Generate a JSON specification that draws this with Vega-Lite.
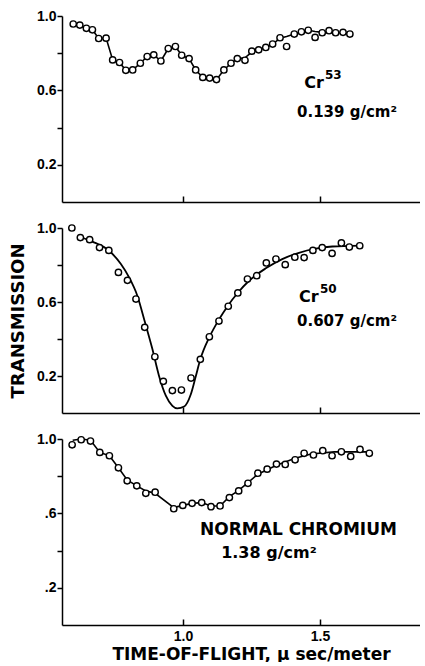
{
  "$schema": "https://vega.github.io/schema/vega-lite/v6.json",
  "background": "white",
  "padding": {"left": 9, "top": 9, "right": 0, "bottom": 0},
  "spacing": 26,
  "bounds": "flush",
  "config": {
    "view": {"stroke": null},
    "axis": {
      "grid": false,
      "domainColor": "black",
      "domainWidth": 1.5,
      "tickColor": "black",
      "tickWidth": 1.5,
      "labelColor": "black",
      "labelFont": "Liberation Sans",
      "labelFontWeight": "bold",
      "labelFontSize": 14,
      "titleColor": "black",
      "titleFont": "DejaVu Sans",
      "titleFontWeight": "bold",
      "titleFontSize": 16
    },
    "text": {"font": "DejaVu Sans", "fontWeight": "bold", "color": "black", "align": "left", "baseline": "alphabetic"}
  },
  "datasets": {
    "p1obs": [
      {"x": 0.599, "y": 0.957}, {"x": 0.623, "y": 0.951}, {"x": 0.647, "y": 0.934}, {"x": 0.669, "y": 0.926},
      {"x": 0.692, "y": 0.879}, {"x": 0.719, "y": 0.881}, {"x": 0.743, "y": 0.764}, {"x": 0.768, "y": 0.750},
      {"x": 0.791, "y": 0.708}, {"x": 0.816, "y": 0.710}, {"x": 0.844, "y": 0.746}, {"x": 0.869, "y": 0.782},
      {"x": 0.893, "y": 0.791}, {"x": 0.919, "y": 0.758}, {"x": 0.946, "y": 0.825}, {"x": 0.972, "y": 0.836},
      {"x": 0.995, "y": 0.789}, {"x": 1.022, "y": 0.771}, {"x": 1.046, "y": 0.710}, {"x": 1.072, "y": 0.670},
      {"x": 1.097, "y": 0.666}, {"x": 1.122, "y": 0.658}, {"x": 1.149, "y": 0.710}, {"x": 1.175, "y": 0.746},
      {"x": 1.198, "y": 0.771}, {"x": 1.226, "y": 0.762}, {"x": 1.251, "y": 0.811}, {"x": 1.276, "y": 0.818},
      {"x": 1.302, "y": 0.831}, {"x": 1.327, "y": 0.849}, {"x": 1.354, "y": 0.883}, {"x": 1.378, "y": 0.836},
      {"x": 1.406, "y": 0.903}, {"x": 1.432, "y": 0.915}, {"x": 1.457, "y": 0.923}, {"x": 1.482, "y": 0.885},
      {"x": 1.508, "y": 0.910}, {"x": 1.533, "y": 0.921}, {"x": 1.557, "y": 0.910}, {"x": 1.584, "y": 0.912},
      {"x": 1.609, "y": 0.903}
    ],
    "p1fit": [
      {"x": 0.599, "y": 0.957}, {"x": 0.623, "y": 0.951}, {"x": 0.647, "y": 0.934}, {"x": 0.669, "y": 0.926},
      {"x": 0.692, "y": 0.879}, {"x": 0.719, "y": 0.881}, {"x": 0.743, "y": 0.764}, {"x": 0.768, "y": 0.750},
      {"x": 0.791, "y": 0.708}, {"x": 0.816, "y": 0.710}, {"x": 0.844, "y": 0.746}, {"x": 0.869, "y": 0.782},
      {"x": 0.893, "y": 0.791}, {"x": 0.919, "y": 0.758}, {"x": 0.946, "y": 0.825}, {"x": 0.972, "y": 0.836},
      {"x": 0.995, "y": 0.789}, {"x": 1.022, "y": 0.771}, {"x": 1.046, "y": 0.710}, {"x": 1.072, "y": 0.670},
      {"x": 1.097, "y": 0.666}, {"x": 1.122, "y": 0.658}, {"x": 1.149, "y": 0.710}, {"x": 1.175, "y": 0.746},
      {"x": 1.198, "y": 0.771}, {"x": 1.226, "y": 0.775}, {"x": 1.251, "y": 0.806}, {"x": 1.276, "y": 0.818},
      {"x": 1.302, "y": 0.831}, {"x": 1.327, "y": 0.849}, {"x": 1.354, "y": 0.880}, {"x": 1.378, "y": 0.890},
      {"x": 1.406, "y": 0.903}, {"x": 1.432, "y": 0.915}, {"x": 1.457, "y": 0.923}, {"x": 1.482, "y": 0.917},
      {"x": 1.508, "y": 0.912}, {"x": 1.533, "y": 0.918}, {"x": 1.557, "y": 0.910}, {"x": 1.584, "y": 0.911},
      {"x": 1.609, "y": 0.903}
    ],
    "p2obs": [
      {"x": 0.594, "y": 1.0}, {"x": 0.625, "y": 0.948}, {"x": 0.659, "y": 0.937}, {"x": 0.695, "y": 0.894},
      {"x": 0.729, "y": 0.879}, {"x": 0.764, "y": 0.760}, {"x": 0.797, "y": 0.717}, {"x": 0.828, "y": 0.616},
      {"x": 0.860, "y": 0.463}, {"x": 0.897, "y": 0.304}, {"x": 0.928, "y": 0.171}, {"x": 0.961, "y": 0.121},
      {"x": 0.994, "y": 0.124}, {"x": 1.029, "y": 0.189}, {"x": 1.063, "y": 0.290}, {"x": 1.096, "y": 0.412},
      {"x": 1.131, "y": 0.497}, {"x": 1.165, "y": 0.577}, {"x": 1.200, "y": 0.649}, {"x": 1.235, "y": 0.724},
      {"x": 1.269, "y": 0.742}, {"x": 1.304, "y": 0.811}, {"x": 1.339, "y": 0.832}, {"x": 1.373, "y": 0.802},
      {"x": 1.408, "y": 0.842}, {"x": 1.442, "y": 0.840}, {"x": 1.474, "y": 0.879}, {"x": 1.508, "y": 0.894},
      {"x": 1.544, "y": 0.863}, {"x": 1.578, "y": 0.919}, {"x": 1.607, "y": 0.897}, {"x": 1.645, "y": 0.904}
    ],
    "p2fit": [
      {"x": 0.627, "y": 0.950}, {"x": 0.669, "y": 0.926}, {"x": 0.730, "y": 0.877}, {"x": 0.773, "y": 0.805},
      {"x": 0.803, "y": 0.733}, {"x": 0.833, "y": 0.634}, {"x": 0.861, "y": 0.490}, {"x": 0.888, "y": 0.346},
      {"x": 0.912, "y": 0.202}, {"x": 0.937, "y": 0.094}, {"x": 0.961, "y": 0.039}, {"x": 0.979, "y": 0.025},
      {"x": 1.004, "y": 0.035}, {"x": 1.028, "y": 0.100}, {"x": 1.045, "y": 0.190}, {"x": 1.063, "y": 0.290},
      {"x": 1.096, "y": 0.410}, {"x": 1.131, "y": 0.505}, {"x": 1.165, "y": 0.583}, {"x": 1.200, "y": 0.650},
      {"x": 1.241, "y": 0.715}, {"x": 1.302, "y": 0.782}, {"x": 1.362, "y": 0.832}, {"x": 1.423, "y": 0.866},
      {"x": 1.484, "y": 0.888}, {"x": 1.545, "y": 0.900}, {"x": 1.648, "y": 0.905}
    ],
    "p3obs": [
      {"x": 0.595, "y": 0.969}, {"x": 0.628, "y": 0.996}, {"x": 0.662, "y": 0.989}, {"x": 0.696, "y": 0.928},
      {"x": 0.731, "y": 0.910}, {"x": 0.764, "y": 0.845}, {"x": 0.796, "y": 0.775}, {"x": 0.831, "y": 0.748},
      {"x": 0.864, "y": 0.708}, {"x": 0.898, "y": 0.714}, {"x": 0.966, "y": 0.625}, {"x": 0.999, "y": 0.643},
      {"x": 1.033, "y": 0.654}, {"x": 1.068, "y": 0.658}, {"x": 1.102, "y": 0.636}, {"x": 1.135, "y": 0.640},
      {"x": 1.169, "y": 0.685}, {"x": 1.203, "y": 0.721}, {"x": 1.237, "y": 0.762}, {"x": 1.273, "y": 0.816},
      {"x": 1.307, "y": 0.838}, {"x": 1.341, "y": 0.865}, {"x": 1.373, "y": 0.863}, {"x": 1.409, "y": 0.888},
      {"x": 1.442, "y": 0.923}, {"x": 1.476, "y": 0.914}, {"x": 1.510, "y": 0.937}, {"x": 1.544, "y": 0.910},
      {"x": 1.578, "y": 0.931}, {"x": 1.612, "y": 0.906}, {"x": 1.646, "y": 0.944}, {"x": 1.680, "y": 0.923}
    ],
    "p3fit": [
      {"x": 0.597, "y": 0.993}, {"x": 0.628, "y": 1.0}, {"x": 0.662, "y": 0.993}, {"x": 0.696, "y": 0.928},
      {"x": 0.731, "y": 0.910}, {"x": 0.764, "y": 0.845}, {"x": 0.796, "y": 0.780}, {"x": 0.831, "y": 0.748},
      {"x": 0.864, "y": 0.721}, {"x": 0.898, "y": 0.708}, {"x": 0.966, "y": 0.631}, {"x": 0.999, "y": 0.643},
      {"x": 1.033, "y": 0.654}, {"x": 1.068, "y": 0.658}, {"x": 1.102, "y": 0.640}, {"x": 1.135, "y": 0.640},
      {"x": 1.169, "y": 0.690}, {"x": 1.203, "y": 0.724}, {"x": 1.237, "y": 0.766}, {"x": 1.273, "y": 0.811},
      {"x": 1.341, "y": 0.859}, {"x": 1.409, "y": 0.896}, {"x": 1.467, "y": 0.919}, {"x": 1.552, "y": 0.931},
      {"x": 1.680, "y": 0.931}
    ],
    "labels": [
      {"panel": 1, "role": "name", "label": "Cr", "x": 1.442, "y": 0.611},
      {"panel": 1, "role": "sup", "label": "53", "x": 1.518, "y": 0.659},
      {"panel": 1, "role": "mass", "label": "0.139 g/cm²", "x": 1.416, "y": 0.459},
      {"panel": 2, "role": "name", "label": "Cr", "x": 1.423, "y": 0.600},
      {"panel": 2, "role": "sup", "label": "50", "x": 1.500, "y": 0.649},
      {"panel": 2, "role": "mass", "label": "0.607 g/cm²", "x": 1.416, "y": 0.470},
      {"panel": 3, "role": "name", "label": "NORMAL CHROMIUM", "x": 1.062, "y": 0.486},
      {"panel": 3, "role": "mass", "label": "1.38 g/cm²", "x": 1.139, "y": 0.362}
    ]
  },
  "vconcat": [
    {
      "width": 358,
      "height": 186,
      "encoding": {
        "x": {"field": "x", "type": "quantitative", "scale": {"domain": [0.558, 1.865], "nice": false, "zero": false},
              "axis": {"values": [1.0, 1.5], "labels": false, "tickSize": -6, "title": null}},
        "y": {"field": "y", "type": "quantitative", "scale": {"domain": [0, 1], "nice": false},
              "axis": {"values": [0.2, 0.4, 0.6, 0.8, 1.0], "tickSize": 5, "labelPadding": 1, "title": null,
                       "labelExpr": "abs(datum.value-0.4)<0.01 || abs(datum.value-0.8)<0.01 ? '' : format(datum.value, '.1f')"}}
      },
      "layer": [
        {"data": {"name": "p1fit"}, "transform": [{"aggregate": [{"op": "count", "as": "n"}]}],
         "mark": {"type": "rule", "color": "black", "strokeWidth": 1.5},
         "encoding": {"x": null, "y": {"datum": 1, "type": "quantitative"}}},
        {"data": {"name": "p1fit"}, "mark": {"type": "line", "color": "black", "strokeWidth": 1.6}},
        {"data": {"name": "p1obs"}, "mark": {"type": "point", "shape": "circle", "filled": true, "fill": "white", "stroke": "black", "strokeWidth": 1.4, "size": 40, "opacity": 1}},
        {"data": {"name": "labels"}, "transform": [{"filter": "datum.panel == 1 && datum.role == 'name'"}],
         "mark": {"type": "text", "fontSize": 16}, "encoding": {"text": {"field": "label"}}},
        {"data": {"name": "labels"}, "transform": [{"filter": "datum.panel == 1 && datum.role == 'sup'"}],
         "mark": {"type": "text", "fontSize": 12}, "encoding": {"text": {"field": "label"}}},
        {"data": {"name": "labels"}, "transform": [{"filter": "datum.panel == 1 && datum.role == 'mass'"}],
         "mark": {"type": "text", "fontSize": 15}, "encoding": {"text": {"field": "label"}}}
      ]
    },
    {
      "width": 358,
      "height": 185,
      "encoding": {
        "x": {"field": "x", "type": "quantitative", "scale": {"domain": [0.558, 1.865], "nice": false, "zero": false},
              "axis": {"values": [1.0, 1.5], "labels": false, "tickSize": -6, "title": null}},
        "y": {"field": "y", "type": "quantitative", "scale": {"domain": [0, 1], "nice": false},
              "axis": {"values": [0.2, 0.4, 0.6, 0.8, 1.0], "tickSize": 5, "labelPadding": 1, "title": "TRANSMISSION", "titlePadding": 9, "titleFontSize": 18,
                       "labelExpr": "abs(datum.value-0.4)<0.01 || abs(datum.value-0.8)<0.01 ? '' : format(datum.value, '.1f')"}}
      },
      "layer": [
        {"data": {"name": "p2fit"}, "transform": [{"aggregate": [{"op": "count", "as": "n"}]}],
         "mark": {"type": "rule", "color": "black", "strokeWidth": 1.5},
         "encoding": {"x": null, "y": {"datum": 1, "type": "quantitative"}}},
        {"data": {"name": "p2fit"}, "mark": {"type": "line", "color": "black", "strokeWidth": 1.8, "interpolate": "monotone"}},
        {"data": {"name": "p2obs"}, "mark": {"type": "point", "shape": "circle", "filled": true, "fill": "white", "stroke": "black", "strokeWidth": 1.4, "size": 40, "opacity": 1}},
        {"data": {"name": "labels"}, "transform": [{"filter": "datum.panel == 2 && datum.role == 'name'"}],
         "mark": {"type": "text", "fontSize": 16}, "encoding": {"text": {"field": "label"}}},
        {"data": {"name": "labels"}, "transform": [{"filter": "datum.panel == 2 && datum.role == 'sup'"}],
         "mark": {"type": "text", "fontSize": 12}, "encoding": {"text": {"field": "label"}}},
        {"data": {"name": "labels"}, "transform": [{"filter": "datum.panel == 2 && datum.role == 'mass'"}],
         "mark": {"type": "text", "fontSize": 15}, "encoding": {"text": {"field": "label"}}}
      ]
    },
    {
      "width": 358,
      "height": 186,
      "encoding": {
        "x": {"field": "x", "type": "quantitative", "scale": {"domain": [0.558, 1.865], "nice": false, "zero": false},
              "axis": {"values": [1.0, 1.5], "format": ".1f", "tickSize": -6, "labelPadding": 10, "title": "TIME-OF-FLIGHT, μ sec/meter", "titleFontSize": 17, "titlePadding": 3, "titleAnchor": "middle", "titleAlign": "center", "titleX": 189}},
        "y": {"field": "y", "type": "quantitative", "scale": {"domain": [0, 1], "nice": false},
              "axis": {"values": [0.2, 0.4, 0.6, 0.8, 1.0], "tickSize": 5, "labelPadding": 1, "title": null,
                       "labelExpr": "abs(datum.value-0.4)<0.01 || abs(datum.value-0.8)<0.01 ? '' : (datum.value > 0.99 ? '1.0' : replace(format(datum.value, '.1f'), '0.', '.'))"}}
      },
      "layer": [
        {"data": {"name": "p3fit"}, "transform": [{"aggregate": [{"op": "count", "as": "n"}]}],
         "mark": {"type": "rule", "color": "black", "strokeWidth": 1.5},
         "encoding": {"x": null, "y": {"datum": 1, "type": "quantitative"}}},
        {"data": {"name": "p3fit"}, "mark": {"type": "line", "color": "black", "strokeWidth": 1.6}},
        {"data": {"name": "p3obs"}, "mark": {"type": "point", "shape": "circle", "filled": true, "fill": "white", "stroke": "black", "strokeWidth": 1.4, "size": 40, "opacity": 1}},
        {"data": {"name": "labels"}, "transform": [{"filter": "datum.panel == 3 && datum.role == 'name'"}],
         "mark": {"type": "text", "fontSize": 17}, "encoding": {"text": {"field": "label"}}},
        {"data": {"name": "labels"}, "transform": [{"filter": "datum.panel == 3 && datum.role == 'mass'"}],
         "mark": {"type": "text", "fontSize": 16}, "encoding": {"text": {"field": "label"}}}
      ]
    }
  ]
}
